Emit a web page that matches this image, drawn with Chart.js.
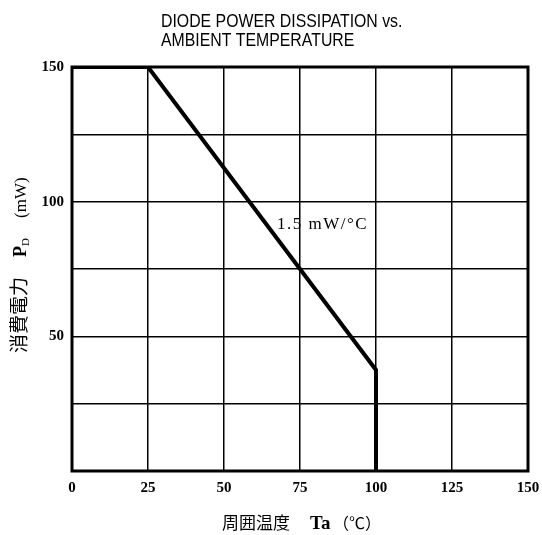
<!DOCTYPE html>
<html>
<head>
<meta charset="utf-8">
<script src="https://cdn.jsdelivr.net/npm/chart.js@4.4.1/dist/chart.umd.min.js"></script>
<style>
  html, body { margin: 0; padding: 0; background: #fff; }
</style>
</head>
<body>
<canvas id="chart" width="542" height="535"></canvas>
<script>
// derating curve: 150 mW flat up to 25 C, then -1.5 mW/C to 100 C
var tempC = [0, 25, 100, 100];
var powerMW = [150, 150, 37.5, 0];
var yLabels = [50, 100, 150];
var titleLines = ['DIODE POWER DISSIPATION vs.', 'AMBIENT TEMPERATURE'];
var slopeText = '1.5 mW/°C';

var serif = '"Liberation Serif", "DejaVu Serif", serif';
var cjk = '"Noto Sans CJK JP", sans-serif';

var textPlugin = {
  id: 'texts',
  afterDraw: function(chart) {
    var ctx = chart.ctx;
    var a = chart.chartArea;
    ctx.save();

    // frame
    ctx.strokeStyle = '#000';
    ctx.lineWidth = 3;
    ctx.strokeRect(a.left, a.top, a.right - a.left, a.bottom - a.top);

    ctx.fillStyle = '#000';
    ctx.textBaseline = 'alphabetic';
    ctx.textAlign = 'left';

    // title, slightly condensed
    ctx.save();
    ctx.font = '18px "Liberation Sans", Arial, sans-serif';
    ctx.scale(0.88, 1);
    ctx.fillText(titleLines[0], 161 / 0.88, 27);
    ctx.fillText(titleLines[1], 161 / 0.88, 46);
    ctx.restore();

    // slope note
    ctx.save();
    ctx.font = '17px ' + serif;
    ctx.letterSpacing = '1.5px';
    ctx.fillText(slopeText, 277, 229);
    ctx.restore();

    // x axis title
    var base = 529;
    ctx.font = '17px ' + cjk;
    ctx.fillText('周囲温度', 222, base);
    ctx.font = 'bold 19px ' + serif;
    ctx.fillText('Ta', 310, base);
    ctx.font = '16px ' + cjk;
    ctx.fillText('（℃）', 333, base);

    // y axis title, rotated
    ctx.translate(26, 353);
    ctx.rotate(-Math.PI / 2);
    ctx.font = '19px ' + cjk;
    ctx.fillText('消費電力', 0, 0);
    ctx.font = 'bold 18px ' + serif;
    ctx.fillText('P', 96, 0);
    var p = 96 + ctx.measureText('P').width;
    ctx.font = '11px ' + serif;
    ctx.fillText('D', p, 3);
    ctx.font = '17px ' + serif;
    ctx.fillText('(mW)', 135, 0);

    ctx.restore();
  }
};

var chart = new Chart(document.getElementById('chart'), {
  type: 'line',
  data: {
    datasets: [{
      data: tempC.map(function(t, i) { return { x: t, y: powerMW[i] }; }),
      borderColor: '#000',
      borderWidth: 4,
      pointRadius: 0,
      tension: 0,
      fill: false
    }]
  },
  options: {
    responsive: false,
    animation: false,
    devicePixelRatio: 1,
    layout: { padding: { top: 67, right: 14, left: 0, bottom: 0 } },
    plugins: {
      legend: { display: false },
      tooltip: { enabled: false }
    },
    scales: {
      x: {
        type: 'linear',
        min: 0,
        max: 150,
        afterFit: function(s) {
          s.height = 64;
          s.paddingLeft = 0;
          s.paddingRight = 0;
        },
        ticks: {
          stepSize: 25,
          color: '#000',
          padding: 8,
          maxRotation: 0,
          font: { family: serif, size: 15, weight: 'bold' }
        },
        grid: { color: '#000', lineWidth: 1.5, drawTicks: false },
        border: { display: false }
      },
      y: {
        min: 0,
        max: 150,
        afterFit: function(s) {
          s.width = 72;
          s.paddingTop = 0;
          s.paddingBottom = 0;
        },
        ticks: {
          stepSize: 25,
          color: '#000',
          padding: 8,
          font: { family: serif, size: 15, weight: 'bold' },
          callback: function(v) { return yLabels.indexOf(v) >= 0 ? v : ''; }
        },
        grid: { color: '#000', lineWidth: 1.5, drawTicks: false },
        border: { display: false }
      }
    }
  },
  plugins: [textPlugin]
});
</script>
</body>
</html>
